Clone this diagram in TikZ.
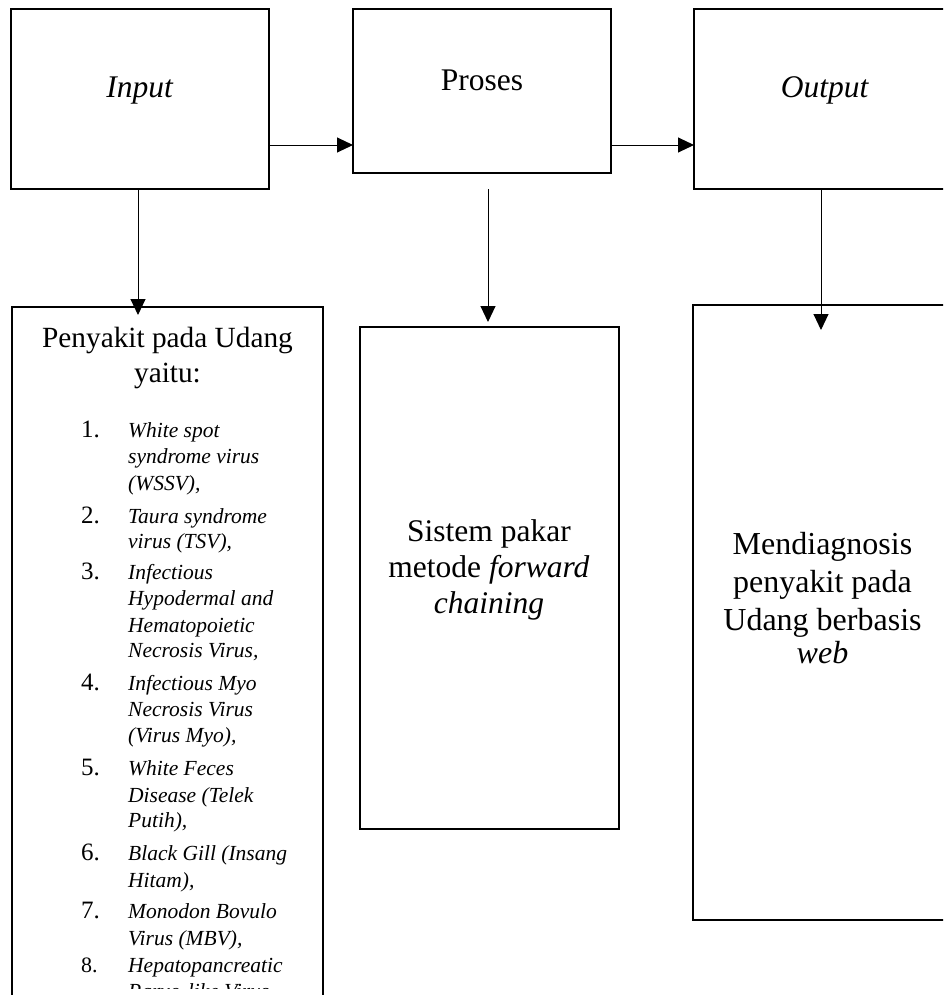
\documentclass[tikz,border=0pt]{standalone}
\usepackage{fontspec}
\setmainfont{Liberation Serif}
\usetikzlibrary{arrows.meta}
\begin{document}
\begin{tikzpicture}[x=1pt,y=-1pt,
  box/.style={draw, line width=2.4pt, inner sep=0pt, outer sep=0pt},
  arr/.style={line width=1pt, -{Triangle[length=16pt,width=15pt]}},
  big/.style={font=\fontsize{31.5}{36}\selectfont},
  bigr/.style={font=\fontsize{32}{38}\selectfont},
  head/.style={font=\fontsize{29.3}{35}\selectfont},
  lab/.style={inner sep=0pt, anchor=base},
  num/.style={inner sep=0pt, anchor=base west, font=\fontsize{25}{30}\selectfont},
  item/.style={inner sep=0pt, anchor=base west, font=\fontsize{21.5}{26}\selectfont\itshape},
]
\useasboundingbox (0,0) rectangle (943,996);
\clip (0,0) rectangle (943,994);

% boxes
\node[box, minimum width=258pt, minimum height=180pt] (input) at (140,99) {};
\node[box, minimum width=258pt, minimum height=164pt] (proses) at (482,91) {};
\node[box, minimum width=258pt, minimum height=180pt] (output) at (823,99) {};
\node[box, minimum width=311pt, minimum height=793pt] (penyakit) at (167.5,703.5) {};
\node[box, minimum width=259pt, minimum height=502pt] (sistem) at (489.5,578) {};
\node[box, minimum width=259pt, minimum height=615pt] (diag) at (822.5,612.5) {};

% connectors
\coordinate (h1) at (0,145);
\draw[arr] (input.east |- h1) -- (proses.west |- h1);
\draw[arr] (proses.east |- h1) -- (output.west |- h1);
\coordinate (d1) at (138,315);
\draw[arr] (input.south -| d1) -- (d1);
\coordinate (d2s) at (488,189);
\coordinate (d2) at (488,322);
\draw[arr] (d2s) -- (d2);
\coordinate (d3) at (821,330);
\draw[arr] (output.south -| d3) -- (d3);

% top texts
\node[lab, big] (tin) at (140,97) {\textit{Input}};
\node[lab, big] (tpr) at (482,90) {Proses};
\node[lab, big] (tout) at (825,97) {\textit{Output}};

% left box
\node[lab, head] (h1t) at (167.5,347) {Penyakit pada Udang};
\node[lab, head] (h2t) at (167.5,382) {yaitu:};
\begin{scope}
\clip (0,0) rectangle (943,988);
\node[num] (n1) at (81,437) {1.};
\node[item] (i1a) at (128,437) {White spot};
\node[item] (i1b) at (128,463) {syndrome virus};
\node[item] (i1c) at (128,490) {(WSSV),};
\node[num] (n2) at (81,523) {2.};
\node[item] (i2a) at (128,523) {Taura syndrome};
\node[item] (i2b) at (128,548) {virus (TSV),};
\node[num] (n3) at (81,579) {3.};
\node[item] (i3a) at (128,579) {Infectious};
\node[item] (i3b) at (128,605) {Hypodermal and};
\node[item] (i3c) at (128,632) {Hematopoietic};
\node[item] (i3d) at (128,657) {Necrosis Virus,};
\node[num] (n4) at (81,690) {4.};
\node[item] (i4a) at (128,690) {Infectious Myo};
\node[item] (i4b) at (128,716) {Necrosis Virus};
\node[item] (i4c) at (128,742) {(Virus Myo),};
\node[num] (n5) at (81,775) {5.};
\node[item] (i5a) at (128,775) {White Feces};
\node[item] (i5b) at (128,802) {Disease (Telek};
\node[item] (i5c) at (128,827) {Putih),};
\node[num] (n6) at (81,860) {6.};
\node[item] (i6a) at (128,860) {Black Gill (Insang};
\node[item] (i6b) at (128,887) {Hitam),};
\node[num] (n7) at (81,918) {7.};
\node[item] (i7a) at (128,918) {Monodon Bovulo};
\node[item] (i7b) at (128,945) {Virus (MBV),};
\node[num, font=\fontsize{22}{26}\selectfont] (n8) at (81,972) {8.};
\node[item] (i8a) at (128,972) {Hepatopancreatic};
\node[item] (i8b) at (128,998) {Parvo-like Virus};
\end{scope}

% middle box text
\node[lab, big] (s1) at (489,541) {Sistem pakar};
\node[lab, big] (s2) at (489,577) {metode \textit{forward}};
\node[lab, big] (s3) at (489,613) {\textit{chaining}};

% right box text
\node[lab, bigr] (m1) at (822.5,554) {Mendiagnosis};
\node[lab, bigr] (m2) at (822.5,592) {penyakit pada};
\node[lab, bigr] (m3) at (822.5,630) {Udang berbasis};
\node[lab, bigr] (m4) at (822.5,663) {\textit{web}};
\end{tikzpicture}
\end{document}
